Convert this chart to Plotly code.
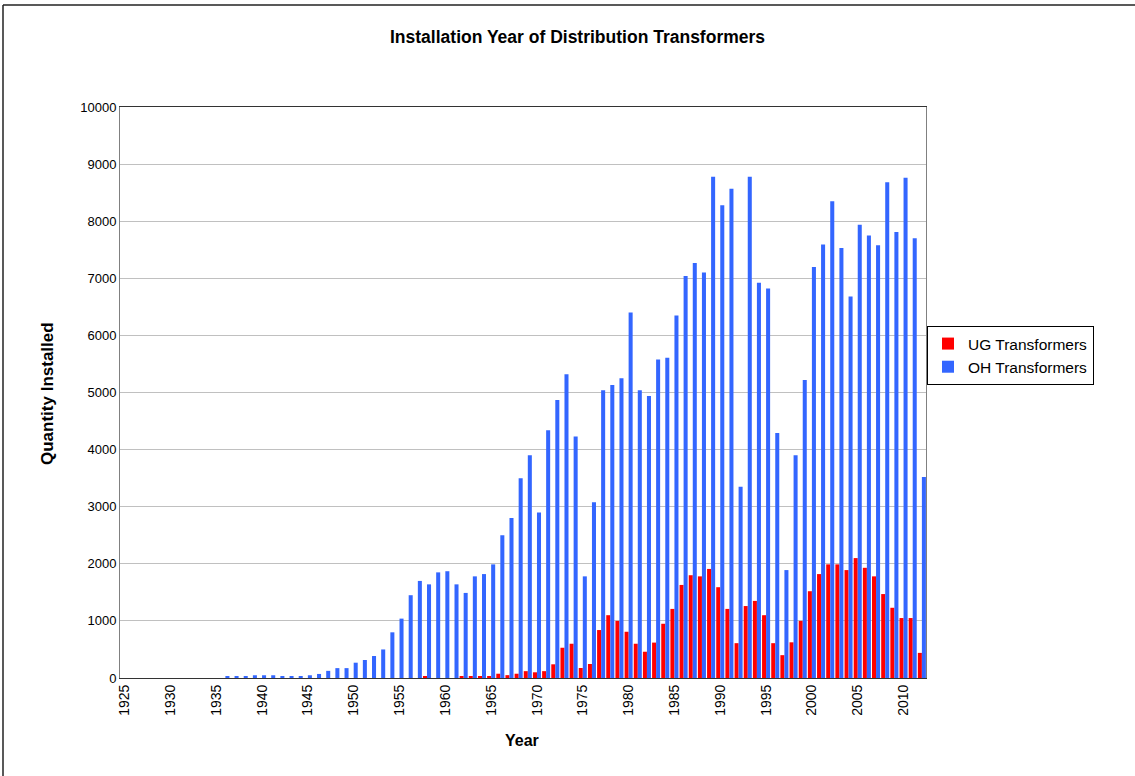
import plotly.graph_objects as go

years = list(range(1925, 2013))

ug_transformers = [
    0, 0, 0, 0, 0,                                    # 1925-1929
    0, 0, 0, 0, 0, 0, 0, 0, 0, 0,                     # 1930-1939
    0, 0, 0, 0, 0, 0, 0, 0, 0, 0,                     # 1940-1949
    0, 0, 0, 0, 0, 0, 0, 0, 25, 0,                    # 1950-1959
    0, 0, 30, 30, 30, 30, 75, 50, 75, 120,            # 1960-1969
    100, 120, 240, 530, 600, 175, 245, 840, 1100, 1000,   # 1970-1979
    810, 600, 460, 620, 950, 1210, 1630, 1800, 1780, 1910,  # 1980-1989
    1590, 1210, 610, 1260, 1350, 1100, 610, 400, 625, 1000,  # 1990-1999
    1520, 1820, 1990, 1990, 1890, 2100, 1930, 1780, 1470, 1230,  # 2000-2009
    1050, 1050, 440,                                  # 2010-2012
]

oh_transformers = [
    0, 0, 0, 0, 0,                                    # 1925-1929
    0, 0, 0, 0, 0, 0, 24, 24, 24, 48,                 # 1930-1939
    48, 48, 24, 24, 24, 48, 71, 125, 173, 173,        # 1940-1949
    268, 315, 385, 500, 800, 1040, 1450, 1700, 1640, 1850,  # 1950-1959
    1870, 1640, 1490, 1780, 1820, 1990, 2500, 2800, 3500, 3900,  # 1960-1969
    2900, 4340, 4870, 5320, 4230, 1780, 3080, 5040, 5130, 5250,  # 1970-1979
    6400, 5040, 4940, 5580, 5610, 6350, 7040, 7270, 7100, 8780,  # 1980-1989
    8280, 8570, 3350, 8780, 6920, 6820, 4290, 1890, 3900, 5220,  # 1990-1999
    7200, 7590, 8350, 7530, 6680, 7940, 7750, 7580, 8680, 7810,  # 2000-2009
    8760, 7700, 3520,                                 # 2010-2012
]

tick_years = [1925, 1930, 1935, 1940, 1945, 1950, 1955, 1960, 1965, 1970,
              1975, 1980, 1985, 1990, 1995, 2000, 2005, 2010]
y_ticks = [0, 1000, 2000, 3000, 4000, 5000, 6000, 7000, 8000, 9000, 10000]

FONT = "Liberation Sans, Arial, sans-serif"

fig = go.Figure()
fig.add_trace(go.Bar(x=years, y=ug_transformers, name="UG Transformers",
                     marker=dict(color="#FF0000", line=dict(width=0))))
fig.add_trace(go.Bar(x=years, y=oh_transformers, name="OH Transformers",
                     marker=dict(color="#3366FF", line=dict(width=0))))

W, H = 1135, 776
L, R, T, B = 120, 209, 107, 98
pw, ph = W - L - R, H - T - B

def px_x(p):
    return (p - L) / pw

def px_y(p):
    return (H - B - p) / ph

fig.update_layout(
    width=W, height=H,
    margin=dict(l=L, r=R, t=T, b=B, autoexpand=False),
    paper_bgcolor="white", plot_bgcolor="white",
    font=dict(family=FONT, size=13, color="black"),
    barmode="group", bargap=0.12, bargroupgap=0,
    showlegend=True,
    legend=dict(x=px_x(927), y=px_y(326), xanchor="left", yanchor="top",
                bordercolor="black", borderwidth=1, bgcolor="white",
                font=dict(family=FONT, size=15.5, color="black"),
                traceorder="normal", itemwidth=30, tracegroupgap=0),
    xaxis=dict(range=[1924.5, 2012.45], tickmode="array", tickvals=tick_years,
               ticktext=[str(t) for t in tick_years], tickangle=-90,
               showgrid=False, showline=True, linecolor="#333333", linewidth=1,
               mirror=True, ticks="", tickfont=dict(size=14), zeroline=False),
    yaxis=dict(range=[0, 10000], tickmode="array", tickvals=y_ticks,
               ticktext=[str(v) for v in y_ticks],
               showgrid=True, gridcolor="#C0C0C0", gridwidth=1,
               showline=True, linecolor="#808080", linewidth=1, mirror=True,
               ticks="", tickfont=dict(size=13), zeroline=False),
)

fig.add_annotation(text="<b>Installation Year of Distribution Transformers</b>",
                   xref="paper", yref="paper", x=px_x(577), y=px_y(37),
                   showarrow=False, font=dict(family=FONT, size=17.5),
                   xanchor="center", yanchor="middle")
fig.add_annotation(text="<b>Quantity Installed</b>", textangle=-90,
                   xref="paper", yref="paper", x=px_x(47), y=px_y(394),
                   showarrow=False, font=dict(family=FONT, size=17),
                   xanchor="center", yanchor="middle")
fig.add_annotation(text="<b>Year</b>",
                   xref="paper", yref="paper", x=px_x(522), y=px_y(740),
                   showarrow=False, font=dict(family=FONT, size=16),
                   xanchor="center", yanchor="middle")

# outer chart border (top and left visible in the reference)
fig.add_shape(type="line", xref="paper", yref="paper",
              x0=px_x(3), x1=px_x(1140), y0=px_y(5), y1=px_y(5),
              line=dict(color="#222222", width=1.5))
fig.add_shape(type="line", xref="paper", yref="paper",
              x0=px_x(3), x1=px_x(3), y0=px_y(5), y1=px_y(780),
              line=dict(color="#222222", width=1.5))

fig.write_html("out.html",
               config={"displayModeBar": False},
               post_script="document.body.style.margin='0px';"
                           "document.body.style.padding='0px';")
